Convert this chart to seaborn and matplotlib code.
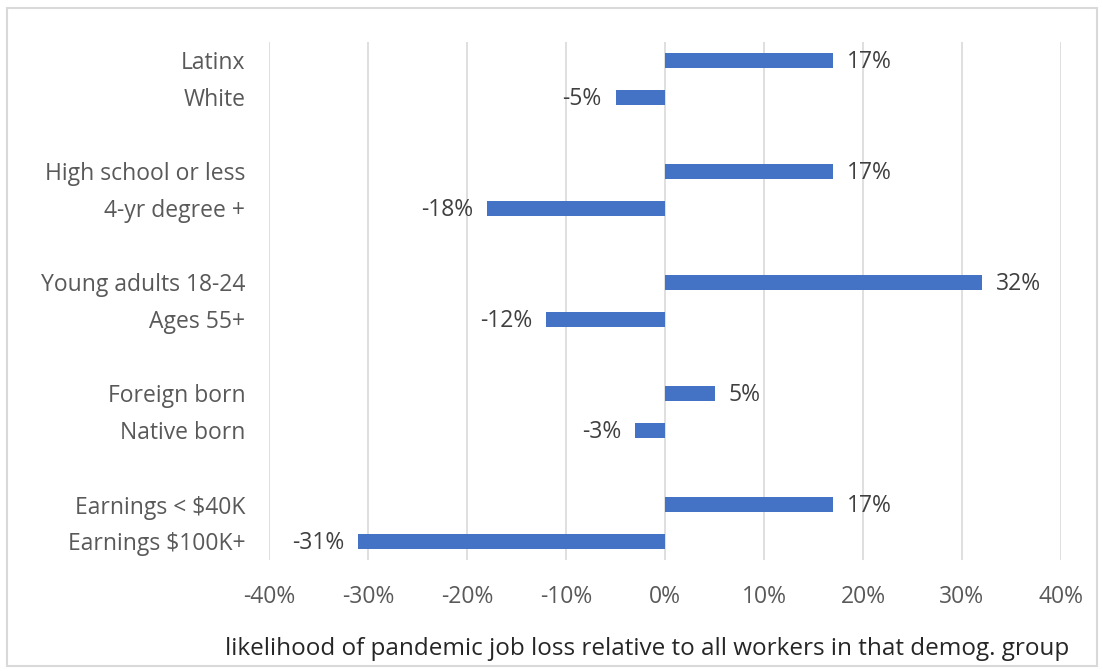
import matplotlib
matplotlib.use("Agg")
import matplotlib.pyplot as plt
import seaborn as sns
import pandas as pd
from matplotlib.patches import Rectangle
from matplotlib.ticker import FuncFormatter

sns.set_style("white")
plt.rcParams['font.family'] = ['Open Sans', 'DejaVu Sans']

# blank labels are the gaps between groups
groups = ["Latinx", "White", " ",
          "High school or less", "4-yr degree +", "  ",
          "Young adults 18-24", "Ages 55+", "   ",
          "Foreign born", "Native born", "    ",
          "Earnings < $40K", "Earnings $100K+"]
values = [17, -5, None, 17, -18, None, 32, -12, None, 5, -3, None, 17, -31]
ticks = [-40, -30, -20, -10, 0, 10, 20, 30, 40]

df = pd.DataFrame({"group": groups, "value": values}).dropna()

fig = plt.figure(figsize=(11.03, 6.71), dpi=100)
ax = fig.add_axes([269 / 1103, 1 - 560 / 671, (1061 - 269) / 1103, (560 - 42) / 671])

sns.barplot(data=df, x="value", y="group", order=groups, color="#4472C4",
            width=0.38, orient="h", ax=ax, saturation=1, linewidth=0)

ax.set_xlim(-40, 40)
ax.set_xticks(ticks)
ax.xaxis.set_major_formatter(FuncFormatter(lambda v, p: "{:.0f}%".format(v)))
ax.grid(axis='x', color="#D9D9D9", linewidth=1.2)
ax.set_axisbelow(True)
for s in ax.spines.values():
    s.set_visible(False)
ax.tick_params(axis='both', length=0, labelsize=16.5, labelcolor="#595959")
ax.tick_params(axis='y', pad=17)
ax.tick_params(axis='x', pad=18)
ax.set_ylabel("")
ax.set_xlabel("likelihood of pandemic job loss relative to all workers in that demog. group",
              fontsize=17.5, color="#262626", labelpad=20)
ax.xaxis.label.set_x(0.478)

for i, v in enumerate(values):
    if v is None:
        continue
    if v >= 0:
        ax.annotate("{:.0f}%".format(v), (v, i), xytext=(10, -1), textcoords="offset points",
                    ha="left", va="center", fontsize=16.5, color="#404040")
    else:
        ax.annotate("{:.0f}%".format(v), (v, i), xytext=(-10, -1), textcoords="offset points",
                    ha="right", va="center", fontsize=16.5, color="#404040")

fig.patches.append(Rectangle((7 / 1103, 1 - 666 / 671), 1090 / 1103, 658 / 671,
                             transform=fig.transFigure, fill=False,
                             edgecolor="#D9D9D9", linewidth=1.5))

fig.savefig("out.png", dpi=100)
